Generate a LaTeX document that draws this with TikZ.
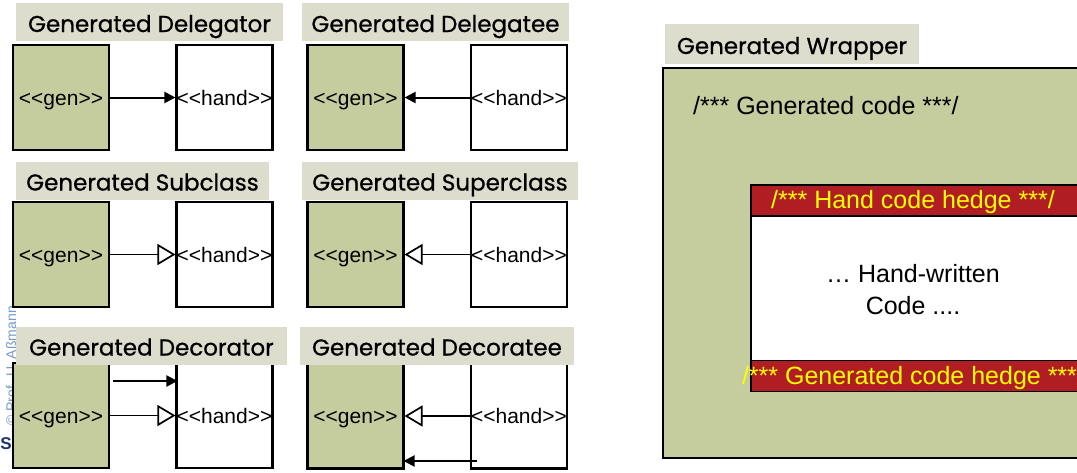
\documentclass[tikz,border=0pt]{standalone}
\usepackage{fontspec}
\setmainfont{Liberation Sans}
\newfontfamily\titlefont{Poppins}[FakeBold=0.8]
\usetikzlibrary{arrows.meta,calc}
\definecolor{genfill}{RGB}{197,205,159}
\definecolor{titlebg}{RGB}{221,221,205}
\definecolor{hedgered}{RGB}{176,30,35}
\definecolor{hedgeyellow}{RGB}{255,255,0}
\definecolor{copyblue}{RGB}{120,155,200}
\definecolor{logonavy}{RGB}{30,50,110}
\newcommand{\gen}{<\kern0pt<gen>\kern0pt>}
\newcommand{\hand}{<\kern0pt<hand>\kern0pt>}
\begin{document}
\begin{tikzpicture}[x=1pt,y=-1pt,
  genbox/.style={draw=black,line width=2.1pt,fill=genfill,minimum width=96pt,minimum height=105pt,inner sep=0pt,text height=15pt,text depth=0pt,font=\fontsize{21}{21}\selectfont},
  handbox/.style={genbox,fill=white},
  titlebar/.style={fill=titlebg,inner sep=0pt,minimum height=38pt,text height=20pt,text depth=0pt,font=\titlefont\fontsize{23}{23}\selectfont},
  assoc/.style={line width=2pt,-{Triangle[length=11pt,width=11pt]}},
  inherit/.style={line width=1.7pt,-{Triangle[open,length=18pt,width=21pt,fill=white]}},
  code/.style={inner sep=0pt,font=\fontsize{25}{32}\selectfont},
  hedgebar/.style={draw=black,line width=1.7pt,fill=hedgered,anchor=north west,minimum width=400pt,minimum height=31pt,inner sep=0pt},
  hedgetext/.style={code,text=hedgeyellow},
]
\useasboundingbox (0,0) rectangle (1077,472);
\clip (0,0) rectangle (1077,472);
\fill[white] (0,0) rectangle (1077,472);

% copyright and logo
\node[rotate=90,text=copyblue,font=\fontsize{14}{14}\selectfont,inner sep=0pt] (copy) at (11,366) {© Prof. U. Aßmann};
\node[text=logonavy,font=\bfseries\fontsize{17}{17}\selectfont,inner sep=0pt] (logo) at (6,444) {S};

% panel 1: delegator
\node[genbox] (g1) at (61,97.5) {\gen};
\node[handbox] (h1) at (224.5,97.5) {\hand};
\draw[assoc] (g1.east) -- (h1.west);
\node[titlebar,minimum width=267pt] (t1) at (149.5,22) {Generated Delegator};

% panel 2: delegatee
\node[genbox] (g2) at (355.5,97.5) {\gen};
\node[handbox] (h2) at (519,97.5) {\hand};
\draw[assoc] (h2.west) -- (g2.east);
\node[titlebar,minimum width=267pt] (t2) at (435.5,22) {Generated Delegatee};

% panel 3: subclass
\node[genbox] (g3) at (61,254.5) {\gen};
\node[handbox] (h3) at (224.5,254.5) {\hand};
\draw[inherit] (g3.east) -- (h3.west);
\node[titlebar,minimum width=253pt] (t3) at (142.5,180.5) {Generated Subclass};

% panel 4: superclass
\node[genbox] (g4) at (355.5,254.5) {\gen};
\node[handbox] (h4) at (519,254.5) {\hand};
\draw[inherit] (h4.west) -- (g4.east);
\node[titlebar,minimum width=276pt] (t4) at (440,180.5) {Generated Superclass};

% panel 5: decorator
\node[genbox] (g5) at (61,415.5) {\gen};
\node[handbox] (h5) at (224.5,415.5) {\hand};
\draw[assoc] ($(g5.east)+(3,-34.5)$) -- ($(h5.west)+(2,-34.5)$);
\draw[inherit] (g5.east) -- (h5.west);
\node[titlebar,minimum width=271pt] (t5) at (151.5,345.5) {Generated Decorator};

% panel 6: decoratee
\node[genbox] (g6) at (355.5,416) {\gen};
\node[handbox] (h6) at (519,416) {\hand};
\draw[inherit] (h6.west) -- (g6.east);
\draw[assoc] ($(h6.west)+(7,45)$) -- ($(g6.east)+(-1,45)$);
\node[titlebar,minimum width=274pt] (t6) at (437,345.5) {Generated Decoratee};

% right panel: wrapper
\node[draw=black,line width=2pt,fill=genfill,anchor=north west,minimum width=440pt,minimum height=390pt,inner sep=0pt] (outer) at (662,67) {};
\node[titlebar,minimum width=254pt,minimum height=40pt] (tw) at (792,44) {Generated Wrapper};
\node[code,anchor=west] (gc) at (693,106) {/*** Generated code ***/};
\node[draw=black,line width=2pt,fill=white,anchor=north west,minimum width=400pt,minimum height=206pt,inner sep=0pt] (handarea) at (750,184) {};
\node[hedgebar] (hh) at (750,184) {};
\node[hedgebar] (gh) at (750,359.5) {};
\node[hedgetext] (hht) at (913,202) {/*** Hand code hedge ***/};
\node[code,align=center] (hwt) at (913,290) {… Hand-written\\Code ....};
\node[hedgetext] (ght) at (913,378) {/*** Generated code hedge ***/};
\end{tikzpicture}
\end{document}
